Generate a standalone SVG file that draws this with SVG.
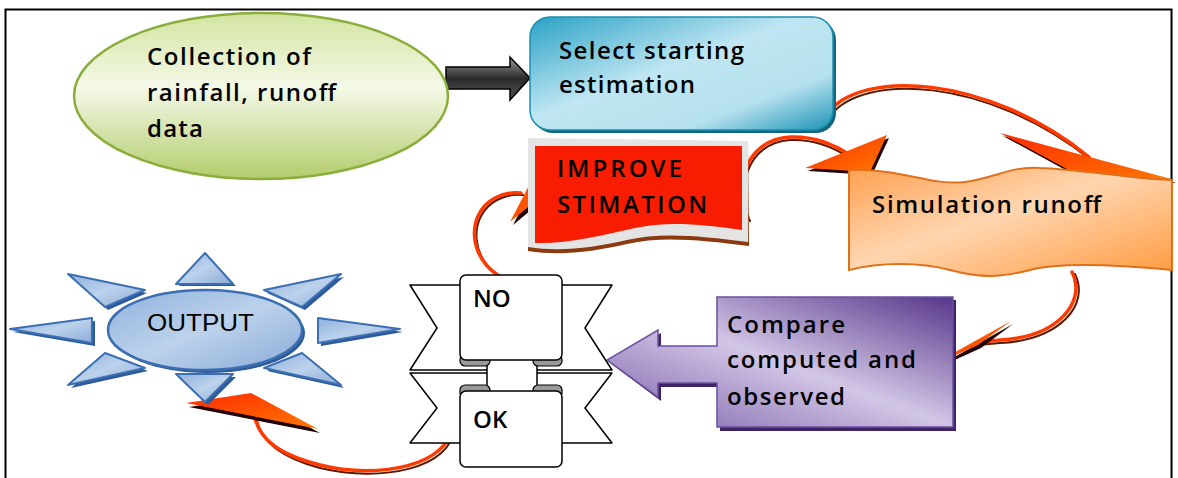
<svg xmlns="http://www.w3.org/2000/svg" width="1178" height="478" viewBox="0 0 1178 478">
<defs>
<linearGradient id="gGreen" x1="0" y1="0" x2="0" y2="1">
<stop offset="0" stop-color="#d3e4a0"/><stop offset="0.45" stop-color="#f4f9e8"/><stop offset="1" stop-color="#b3cc6c"/>
</linearGradient>
<linearGradient id="gBlue" x1="0" y1="0" x2="1" y2="1">
<stop offset="0" stop-color="#2aa2c6"/><stop offset="0.45" stop-color="#bfe6f2"/><stop offset="0.75" stop-color="#b5e0ee"/><stop offset="1" stop-color="#1b93b6"/>
</linearGradient>
<linearGradient id="gOrange" x1="0" y1="0" x2="1" y2="1">
<stop offset="0" stop-color="#ffa050"/><stop offset="0.45" stop-color="#ffd6b0"/><stop offset="1" stop-color="#ff9a40"/>
</linearGradient>
<linearGradient id="gPurple" x1="1" y1="0" x2="0" y2="1">
<stop offset="0" stop-color="#57368a"/><stop offset="0.5" stop-color="#d2c6e6"/><stop offset="1" stop-color="#7a5fa8"/>
</linearGradient>
<linearGradient id="gSun" x1="0" y1="0" x2="1" y2="1">
<stop offset="0" stop-color="#8fb0dc"/><stop offset="0.5" stop-color="#bcd2ec"/><stop offset="1" stop-color="#8aaad6"/>
</linearGradient>
<linearGradient id="gBlack" x1="0" y1="0" x2="0" y2="1">
<stop offset="0" stop-color="#9a9a9a"/><stop offset="0.5" stop-color="#2a2a2a"/><stop offset="1" stop-color="#555"/>
</linearGradient>
<linearGradient id="gHead" x1="0" y1="0" x2="1" y2="1">
<stop offset="0" stop-color="#ff2a00"/><stop offset="1" stop-color="#ff7a00"/>
</linearGradient>
<style>
.t{font-family:"Open Sans","Liberation Sans",Arial,sans-serif;font-size:24px;font-weight:600;fill:#000}
.con{fill:none;stroke:#ff3a00;stroke-width:3.5;stroke-linecap:round}
.conS{fill:none;stroke:#5a1a00;stroke-width:2;stroke-linecap:round}
.head{fill:url(#gHead)}
.headS{fill:#200000}
.ray{fill:url(#gSun);stroke:#3c6fb2;stroke-width:2;stroke-linejoin:round}
.rayS{fill:#2c5a9a}
.sc{fill:#fff;stroke:#000;stroke-width:1.5;stroke-linejoin:round}
.curl{fill:#9a9a9a;stroke:#000;stroke-width:1.2}
</style>
</defs>
<rect x="5.5" y="9.5" width="1166" height="480" fill="#fff" stroke="#000" stroke-width="2"/>

<g id="connectors">
<path d="M446,67 L510,67 L510,57 L530,78 L510,100 L510,89 L446,89 Z" fill="url(#gBlack)" stroke="#000" stroke-width="1.5"/>
<path class="conS" d="M830,116 C862,73 985,76 1091,160"/>
<path class="con" d="M828,113 C860,70 985,73 1089,157"/>
<polygon class="headS" points="1003,136 1176,183 1093,185"/>
<polygon class="head" points="1000,133 1175,180 1091,182"/>
<path class="conS" d="M750,221 C736,192 745,143 790,140 C815,139 835,148 850,158"/>
<path class="con" d="M748,218 C734,190 743,140 790,137 C815,136 835,145 850,155"/>
<polygon class="headS" points="808,171 889,138 872,175"/>
<polygon class="head" points="805,168 887,135 870,172"/>
<path class="conS" d="M1075,274 C1090,305 1060,340 1000,343 L978,345"/>
<path class="con" d="M1072,272 C1087,302 1058,337 1000,340 L975,343"/>
<polygon class="headS" points="926,373 1013,324 981,348"/>
<polygon class="head" points="923,370 1011,321 978,345"/>
<path class="conS" d="M505,280 C470,262 467,216 497,200 C507,195 516,194 523,195"/>
<path class="con" d="M503,278 C468,260 465,214 495,198 C505,193 514,192 521,193"/>
<polygon class="headS" points="541,171 513,225 548,196"/>
<polygon class="head" points="538,168 510,222 545,193"/>
<path class="conS" d="M454,428 C452,468 382,483 320,468 C282,458 262,443 257,421"/>
<path class="con" d="M452,425 C450,465 380,480 320,465 C280,455 260,440 255,418"/>
<polygon class="headS" points="189,407 254,397 320,433"/>
<polygon class="head" points="186,403 251,393 318,429"/>
</g>

<g id="collection">
<ellipse cx="261" cy="96" rx="187" ry="83" fill="url(#gGreen)" stroke="#8aae3c" stroke-width="2.5"/>
<text class="t" x="147" y="65" textLength="164" lengthAdjust="spacing">Collection of</text>
<text class="t" x="147" y="101" textLength="189" lengthAdjust="spacing">rainfall, runoff</text>
<text class="t" x="147" y="137" textLength="56" lengthAdjust="spacing">data</text>
</g>

<g id="select">
<rect x="533" y="20" width="303" height="113" rx="20" fill="#17647e"/>
<rect x="530" y="17" width="303" height="113" rx="20" fill="url(#gBlue)" stroke="#1a8fb0" stroke-width="1.5"/>
<text class="t" x="559" y="59" textLength="185" lengthAdjust="spacing">Select starting</text>
<text class="t" x="559" y="93" textLength="136" lengthAdjust="spacing">estimation</text>
</g>

<g id="improve">
<path d="M528,139 L748,142 L749,246 C700,240 662,236 627,244 C592,252 560,256 528,251 Z" fill="#8b3a10"/>
<path d="M528,138 L748,141 L748,242 C700,236 662,232 627,240 C592,248 560,252 528,247 Z" fill="#e4e4e4"/>
<path d="M535,146 L742,146 L742,230 C700,224 668,221 635,228 C600,236 567,244 535,243 Z" fill="#f81c00"/>
<text class="t" x="557" y="177" textLength="125" lengthAdjust="spacing">IMPROVE</text>
<text class="t" x="557" y="213" textLength="150" lengthAdjust="spacing">STIMATION</text>
</g>

<g id="simulation">
<path d="M849,170 C900,168 930,186 965,182 C995,178 1010,166 1040,168 C1090,170 1140,180 1172,180 L1172,270 C1120,265 1060,262 1030,270 C1000,278 980,278 950,270 C920,262 880,262 849,270 Z" fill="url(#gOrange)" stroke="#e0701a" stroke-width="2"/>
<text class="t" x="872" y="213" textLength="229" lengthAdjust="spacing">Simulation runoff</text>
</g>

<g id="compare">
<path d="M720,300 L956,300 L956,431 L720,431 L720,387 L661,387 L661,401 L610,363 L661,333 L661,349 L720,349 Z" fill="#3e2466"/>
<path d="M717,297 L953,297 L953,427 L717,427 L717,383 L658,383 L658,397 L607,360 L658,330 L658,346 L717,346 Z" fill="url(#gPurple)" stroke="#6b4fa0" stroke-width="1.5"/>
<text class="t" x="727" y="333" textLength="118" lengthAdjust="spacing">Compare</text>
<text class="t" x="727" y="368" textLength="189" lengthAdjust="spacing">computed and</text>
<text class="t" x="727" y="405" textLength="118" lengthAdjust="spacing">observed</text>
</g>

<g id="output">
<polygon class="rayS" points="179,286 205,256 236,286"/>
<polygon class="ray" points="176,284 205,253 233,284"/>
<polygon class="rayS" points="71,277 147,293 108,310"/>
<polygon class="ray" points="68,274 145,290 105,307"/>
<polygon class="rayS" points="344,277 267,293 305,310"/>
<polygon class="ray" points="341,274 264,290 302,307"/>
<polygon class="rayS" points="13,332 95,321 95,346"/>
<polygon class="ray" points="10,329 92,318 92,343"/>
<polygon class="rayS" points="321,321 403,332 321,346"/>
<polygon class="ray" points="318,318 400,329 318,343"/>
<polygon class="rayS" points="71,388 148,371 108,356"/>
<polygon class="ray" points="68,385 145,368 105,353"/>
<polygon class="rayS" points="344,388 267,371 305,356"/>
<polygon class="ray" points="341,385 264,368 302,353"/>
<polygon class="rayS" points="179,377 236,377 208,405"/>
<polygon class="ray" points="176,374 233,374 205,402"/>
<ellipse cx="208" cy="333" rx="97" ry="40" fill="#2c5a9a"/>
<ellipse cx="205" cy="330" rx="97" ry="40" fill="url(#gSun)" stroke="#3c6fb2" stroke-width="2.5"/>
<text x="147" y="331" textLength="107" lengthAdjust="spacingAndGlyphs" style="font-family:'Liberation Sans',Arial,sans-serif;font-size:23px;fill:#000">OUTPUT</text>
</g>

<g id="decision">
<polygon class="sc" points="410,285 612,285 585,328 612,370 410,370 437,328"/>
<polygon class="sc" points="410,373 612,373 585,408 612,443 410,443 437,408"/>
<rect class="sc" x="487" y="356" width="50" height="36"/>
<rect class="curl" x="460" y="355" width="30" height="11" rx="5"/>
<rect class="curl" x="533" y="355" width="29" height="11" rx="5"/>
<rect class="curl" x="460" y="385" width="30" height="13" rx="5"/>
<rect class="curl" x="533" y="385" width="29" height="13" rx="5"/>
<rect class="sc" x="460" y="275" width="102" height="85" rx="6"/>
<rect class="sc" x="460" y="391" width="102" height="76" rx="6"/>
<text class="t" x="473" y="307">NO</text>
<text class="t" x="473" y="428">OK</text>
</g>
</svg>
